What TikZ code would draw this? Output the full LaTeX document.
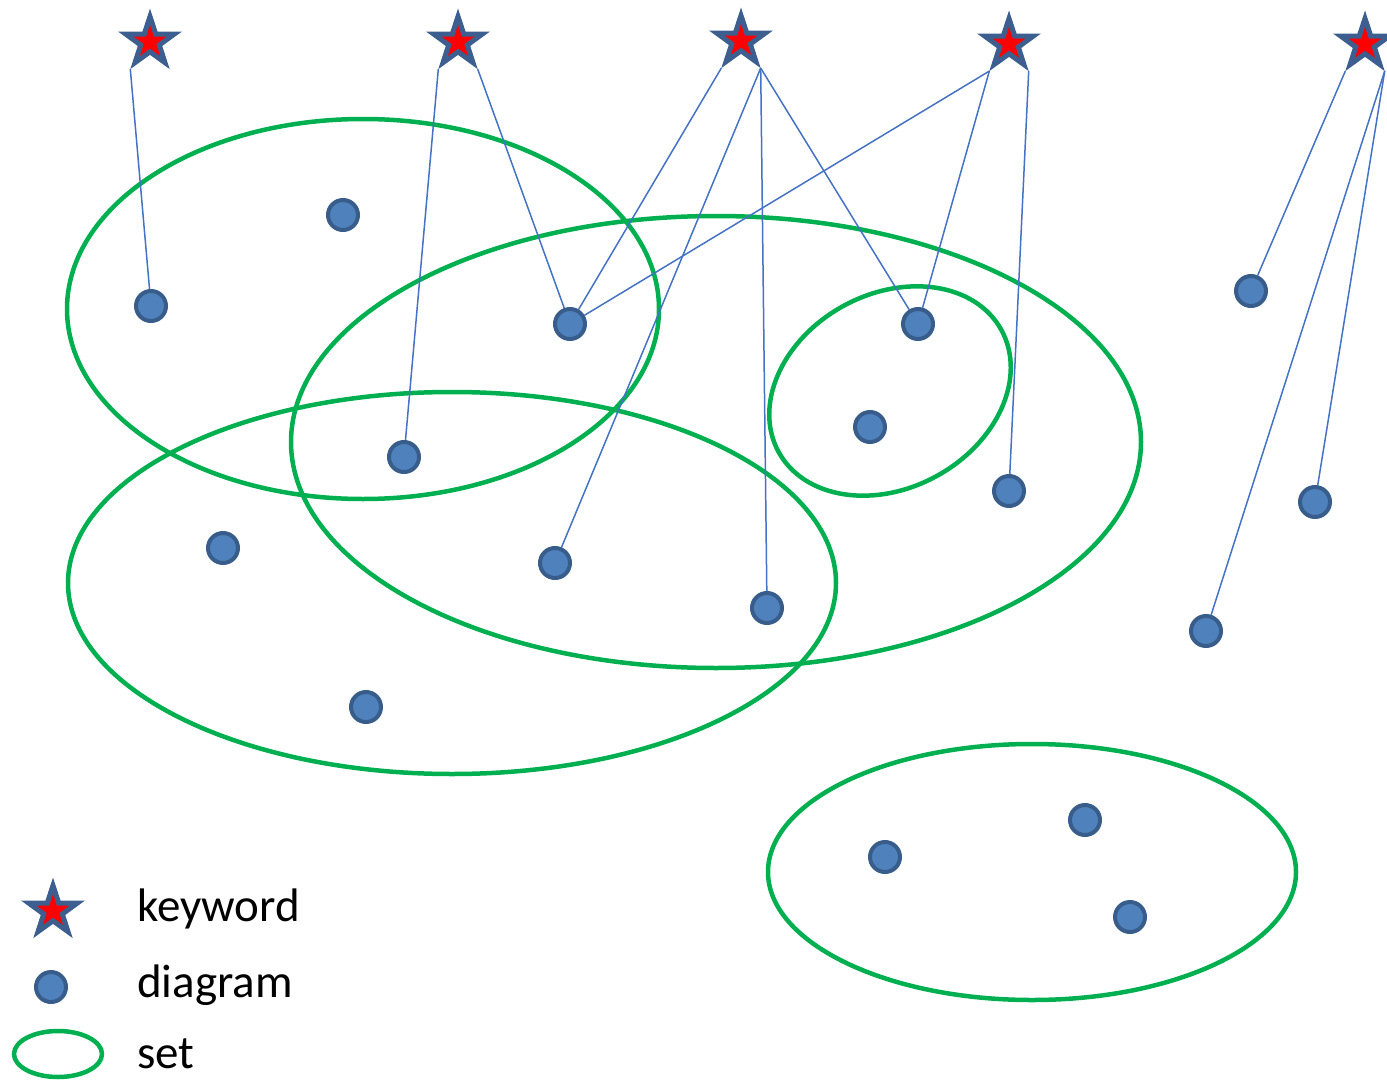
\documentclass[tikz,border=0pt]{standalone}
\usepackage{fontspec}
\setmainfont{Carlito}
\usetikzlibrary{shapes.geometric, backgrounds}
\definecolor{starblue}{HTML}{3D5F8F}
\definecolor{dgmfill}{HTML}{4F81BD}
\definecolor{dgmline}{HTML}{385D8A}
\definecolor{setgreen}{HTML}{00B050}
\definecolor{linkblue}{HTML}{4472C4}

\begin{document}
\begin{tikzpicture}[x=1pt, y=-1pt,
  redstar/.style={star, star points=5, star point ratio=2.6, fill=red, minimum size=34pt, inner sep=0pt, outer sep=0pt},
  kw/.style={star, star points=5, star point ratio=2.6, fill=starblue, minimum size=67pt, inner sep=0pt, outer sep=0pt, label={[redstar]center:}},
  dgm/.style={circle, fill=dgmfill, draw=dgmline, line width=4pt, minimum size=30pt, inner sep=0pt},
  grp/.style={draw=setgreen, line width=4.5pt},
  link/.style={draw=linkblue, line width=1.5pt},
  legend/.style={anchor=base west, inner sep=0pt, font=\fontsize{47}{56}\selectfont}]

\useasboundingbox (0,0) rectangle (1387,1081);

% keywords
\node[kw] (s1) at (150,42) {};
\node[kw] (s2) at (458,42) {};
\node[kw] (s3) at (741,41) {};
\node[kw] (s4) at (1009,44) {};
\node[kw] (s5) at (1365,44) {};

% diagrams
\node[dgm] (d1) at (151,306) {};
\node[dgm] (d2) at (343,215) {};
\node[dgm] (d3) at (570,324) {};
\node[dgm] (d4) at (404,457) {};
\node[dgm] (d5) at (223,548) {};
\node[dgm] (d6) at (555,563) {};
\node[dgm] (d7) at (767,608) {};
\node[dgm] (d8) at (366,707) {};
\node[dgm] (d9) at (918,324) {};
\node[dgm] (d10) at (870,427) {};
\node[dgm] (d11) at (1009,491) {};
\node[dgm] (d12) at (1251,291) {};
\node[dgm] (d13) at (1315,502) {};
\node[dgm] (d14) at (1206,631) {};
\node[dgm] (d15) at (885,857) {};
\node[dgm] (d16) at (1085,820) {};
\node[dgm] (d17) at (1130,917) {};

\begin{scope}[on background layer]
  % sets
  \draw[grp] (363,309) ellipse [x radius=296, y radius=190];
  \draw[grp] (716,442) ellipse [x radius=425, y radius=226];
  \draw[grp] (452,583) ellipse [x radius=384, y radius=191];
  \draw[grp, rotate around={28.7:(890,391)}] (890,391) ellipse [x radius=127, y radius=97];
  \draw[grp] (1032,872) ellipse [x radius=264, y radius=128];

  % links
  \draw[link] (s1.outer point 3) -- (d1);
  \draw[link] (s2.outer point 3) -- (d4);
  \draw[link] (s2.outer point 4) -- (d3);
  \draw[link] (s3.outer point 3) -- (d3);
  \draw[link] (s3.outer point 4) -- (d6);
  \draw[link] (s3.outer point 4) -- (d7);
  \draw[link] (s3.outer point 4) -- (d9);
  \draw[link] (s4.outer point 3) -- (d3);
  \draw[link] (s4.outer point 3) -- (d9);
  \draw[link] (s4.outer point 4) -- (d11);
  \draw[link] (s5.outer point 3) -- (d12);
  \draw[link] (s5.outer point 4) -- (d13);
  \draw[link] (s5.outer point 4) -- (d14);
\end{scope}

% legend
\node[kw] (lkw) at (53,911) {};
\node[dgm] (ldgm) at (51,987) {};
\draw[grp] (58,1054) ellipse [x radius=44, y radius=23];
\node[legend] (tkw) at (137,921) {keyword};
\node[legend] (tdgm) at (137,997) {diagram};
\node[legend] (tset) at (137,1068) {set};
\end{tikzpicture}
\end{document}
